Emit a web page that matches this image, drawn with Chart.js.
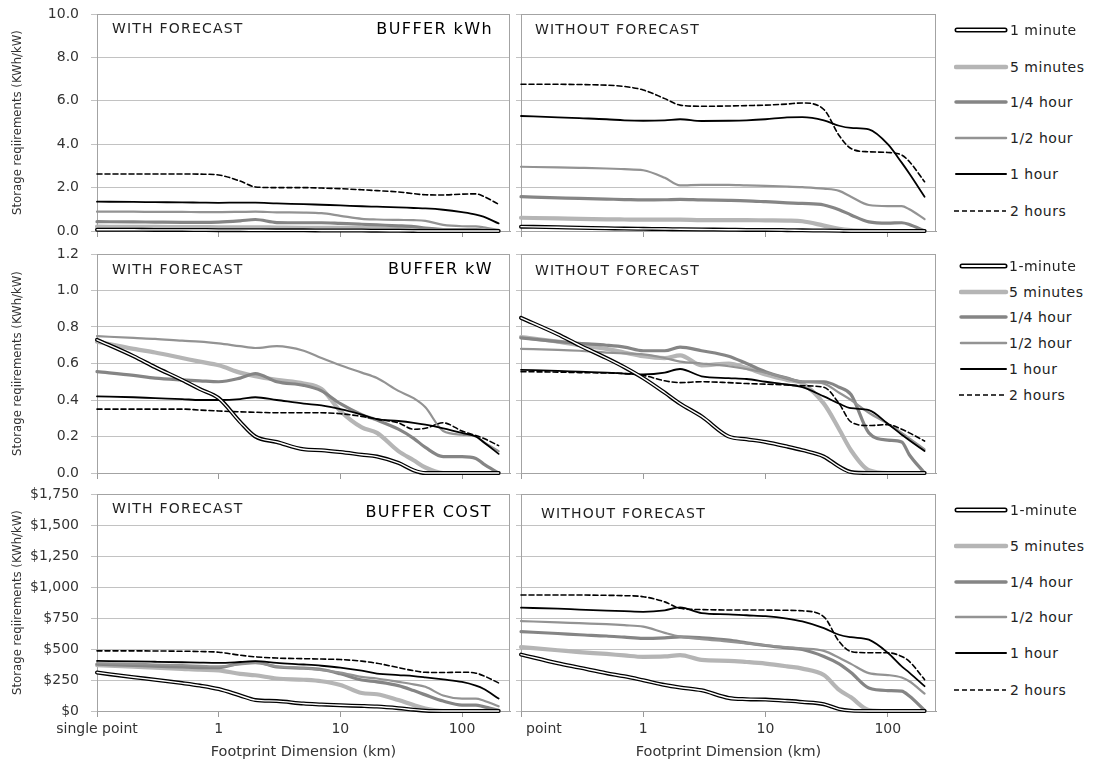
<!DOCTYPE html>
<html>
<head>
<meta charset="utf-8">
<script src="https://cdn.jsdelivr.net/npm/chart.js@4.4.1/dist/chart.umd.min.js"></script>
<style>
html,body{margin:0;padding:0;background:#fff;}
#wrap{position:relative;width:1096px;height:761px;overflow:hidden;font-family:"DejaVu Sans",sans-serif;color:#222;}
#wrap canvas{position:absolute;}
.lbl{position:absolute;white-space:nowrap;font-size:14px;letter-spacing:1.2px;line-height:16px;color:#222;}
.ttl{position:absolute;white-space:nowrap;font-size:16px;letter-spacing:1.4px;line-height:18px;color:#000;}
.leg{position:absolute;width:140px;height:16px;}
.leg svg{position:absolute;left:0;top:3px;}
.leg span{position:absolute;top:0;font-size:14px;letter-spacing:0.5px;line-height:16px;color:#222;white-space:nowrap;}
</style>
</head>
<body>
<div id="wrap"></div>
<script>
// ---------------- data ----------------
const distanceKm = [0.1, 0.2, 0.3, 0.5, 0.7, 1, 1.5, 2, 3, 5, 7, 10, 15, 20, 30, 40, 50, 70, 100, 130, 150, 200];
const xTickValues = [0.1, 1, 10, 100];
const xTickLabels = ['single point', '1', '10', '100'];

const yTicksKwh = [0, 2, 4, 6, 8, 10];
const yTicksKw = [0, 0.2, 0.4, 0.6, 0.8, 1.0, 1.2];
const yTicksCost = [0, 250, 500, 750, 1000, 1250, 1500, 1750];

const legendKwh = ['1 minute', '5 minutes', '1/4 hour', '1/2 hour', '1 hour', '2 hours'];
const legendKw = ['1-minute', '5 minutes', '1/4 hour', '1/2 hour', '1 hour', '2 hours'];
const legendCost = ['1-minute', '5 minutes', '1/4 hour', '1/2 hour', '1 hour', '2 hours'];

// BUFFER kWh - with forecast
const kwhWith_1min  = [0.06,0.055,0.05,0.05,0.045,0.04,0.04,0.035,0.03,0.03,0.025,0.02,0.02,0.015,0.01,0.005,0,0,0,0,0,0];
const kwhWith_5min  = [0.2,0.19,0.19,0.18,0.18,0.17,0.17,0.17,0.16,0.15,0.15,0.14,0.13,0.12,0.1,0.08,0.05,0.02,0.01,0.01,0.005,0];
const kwhWith_15min = [0.43,0.42,0.41,0.4,0.4,0.41,0.47,0.53,0.39,0.38,0.38,0.35,0.31,0.28,0.24,0.2,0.13,0.07,0.06,0.06,0.04,0];
const kwhWith_30min = [0.89,0.89,0.88,0.88,0.87,0.87,0.88,0.89,0.86,0.85,0.82,0.7,0.56,0.53,0.51,0.5,0.47,0.28,0.22,0.21,0.17,0.05];
const kwhWith_1h    = [1.35,1.34,1.33,1.32,1.31,1.3,1.31,1.31,1.27,1.24,1.21,1.18,1.14,1.12,1.09,1.06,1.04,0.98,0.87,0.76,0.66,0.35];
const kwhWith_2h    = [2.63,2.63,2.63,2.63,2.62,2.58,2.3,2.03,2.0,2.0,1.98,1.95,1.9,1.86,1.8,1.72,1.67,1.66,1.7,1.71,1.6,1.23];

// BUFFER kWh - without forecast
const kwhWithout_1min  = [0.2,0.17,0.15,0.13,0.11,0.1,0.09,0.08,0.07,0.06,0.05,0.05,0.04,0.03,0.02,0.01,0,0,0,0,0,0];
const kwhWithout_5min  = [0.61,0.58,0.56,0.54,0.53,0.52,0.52,0.52,0.5,0.5,0.5,0.49,0.48,0.45,0.25,0.1,0.04,0.01,0,0,0,0];
const kwhWithout_15min = [1.58,1.53,1.5,1.47,1.45,1.43,1.44,1.46,1.43,1.41,1.39,1.35,1.3,1.27,1.2,0.98,0.74,0.42,0.36,0.38,0.3,0];
const kwhWithout_30min = [2.96,2.93,2.91,2.88,2.85,2.8,2.45,2.1,2.13,2.13,2.1,2.08,2.05,2.02,1.95,1.85,1.58,1.2,1.15,1.15,1.0,0.55];
const kwhWithout_1h    = [5.3,5.24,5.2,5.15,5.1,5.08,5.1,5.15,5.07,5.08,5.1,5.15,5.24,5.25,5.1,4.85,4.75,4.68,4.0,3.15,2.65,1.58];
const kwhWithout_2h    = [6.76,6.76,6.75,6.72,6.66,6.5,6.1,5.8,5.75,5.76,5.78,5.8,5.85,5.9,5.6,4.4,3.8,3.65,3.62,3.5,3.2,2.27];

// BUFFER kW - with forecast
const kwWith_1min  = [0.73,0.64,0.58,0.51,0.46,0.41,0.28,0.2,0.17,0.13,0.125,0.115,0.1,0.09,0.055,0.015,0,0,0,0,0,0];
const kwWith_5min  = [0.72,0.68,0.66,0.63,0.61,0.59,0.55,0.53,0.51,0.49,0.46,0.34,0.25,0.22,0.12,0.07,0.03,0,0,0,0,0];
const kwWith_15min = [0.555,0.535,0.52,0.51,0.505,0.5,0.52,0.545,0.5,0.48,0.45,0.38,0.32,0.29,0.24,0.19,0.14,0.09,0.09,0.08,0.05,0];
const kwWith_30min = [0.75,0.74,0.735,0.725,0.72,0.71,0.695,0.685,0.695,0.67,0.63,0.59,0.55,0.52,0.45,0.41,0.36,0.23,0.21,0.2,0.17,0.12];
const kwWith_1h    = [0.42,0.415,0.41,0.405,0.4,0.4,0.405,0.415,0.4,0.38,0.37,0.35,0.32,0.295,0.285,0.275,0.265,0.245,0.22,0.2,0.17,0.105];
const kwWith_2h    = [0.35,0.35,0.35,0.35,0.345,0.34,0.335,0.333,0.33,0.33,0.33,0.325,0.31,0.295,0.275,0.24,0.245,0.275,0.23,0.205,0.19,0.15];

// BUFFER kW - without forecast
const kwWithout_1min  = [0.85,0.76,0.7,0.63,0.58,0.52,0.44,0.38,0.31,0.2,0.185,0.17,0.145,0.125,0.09,0.035,0.005,0,0,0,0,0];
const kwWithout_5min  = [0.745,0.72,0.7,0.68,0.66,0.64,0.63,0.645,0.59,0.6,0.575,0.54,0.51,0.49,0.38,0.24,0.125,0.015,0,0,0,0];
const kwWithout_15min = [0.74,0.72,0.71,0.7,0.69,0.67,0.67,0.69,0.67,0.64,0.6,0.555,0.52,0.5,0.5,0.47,0.43,0.22,0.18,0.17,0.1,0];
const kwWithout_30min = [0.68,0.675,0.67,0.66,0.655,0.65,0.63,0.61,0.6,0.585,0.57,0.55,0.52,0.5,0.49,0.44,0.4,0.33,0.27,0.22,0.19,0.13];
const kwWithout_1h    = [0.565,0.56,0.555,0.55,0.545,0.54,0.55,0.57,0.53,0.52,0.515,0.5,0.485,0.47,0.42,0.38,0.355,0.345,0.27,0.21,0.18,0.12];
const kwWithout_2h    = [0.555,0.553,0.55,0.548,0.545,0.535,0.505,0.495,0.5,0.495,0.49,0.487,0.482,0.478,0.47,0.38,0.28,0.26,0.265,0.24,0.22,0.175];

// BUFFER COST - with forecast ($)
const costWith_1min  = [310,272,252,225,205,177,125,88,80,60,53,46,41,36,23,11,3,0,0,0,0,0];
const costWith_5min  = [370,357,350,340,333,328,300,288,262,252,240,210,145,135,88,48,20,0,0,0,0,0];
const costWith_15min = [378,368,362,355,350,350,385,395,355,345,335,300,250,235,205,165,130,80,48,48,35,5];
const costWith_30min = [385,380,375,370,365,360,375,385,360,345,330,310,275,262,235,215,195,125,100,100,85,38];
const costWith_1h    = [404,400,397,393,390,388,395,402,388,375,365,350,325,302,290,282,272,255,235,205,180,100];
const costWith_2h    = [485,485,484,482,480,474,450,437,427,422,419,415,402,385,350,325,312,310,313,305,285,226];

// BUFFER COST - without forecast ($)
const costWithout_1min  = [455,385,350,305,280,248,210,190,167,105,95,92,82,73,55,15,3,0,0,0,0,0];
const costWithout_5min  = [515,490,475,460,448,437,440,450,412,405,395,382,360,342,290,170,110,8,0,0,0,0];
const costWithout_15min = [640,625,615,605,595,585,590,598,590,572,550,528,508,496,440,380,310,185,165,160,120,5];
const costWithout_30min = [725,715,708,700,692,680,630,600,580,560,545,530,515,505,485,430,380,305,290,270,240,140];
const costWithout_1h    = [833,825,818,810,805,800,812,835,790,780,772,765,745,722,668,615,595,575,470,360,310,200];
const costWithout_2h    = [935,935,935,933,930,922,880,828,818,815,815,814,812,808,760,560,480,470,470,440,400,253];

// ---------------- formatting ----------------
const fmtOne = v => Number(v).toFixed(1);
const fmtCost = v => '$' + Number(v).toLocaleString('en-US');

const TICK_FONT = {family: "'DejaVu Sans', sans-serif", size: 14};
const YTITLE_FONT = {family: "'Liberation Sans Narrow', 'DejaVu Sans Condensed', 'Liberation Sans', sans-serif", size: 13};

const panels = [
  {left:0,   top:0,   width:513, height:240, padTop:14, padRight:3, yWidth:97, xHeight:9,  showY:true,  showX:false, yTicks:yTicksKwh,  fmt:fmtOne,
   series:[kwhWith_1min, kwhWith_5min, kwhWith_15min, kwhWith_30min, kwhWith_1h, kwhWith_2h]},
  {left:516, top:0,   width:424, height:240, padTop:14, padRight:4, yWidth:5,  xHeight:9,  showY:false, showX:false, yTicks:yTicksKwh,  fmt:fmtOne,
   series:[kwhWithout_1min, kwhWithout_5min, kwhWithout_15min, kwhWithout_30min, kwhWithout_1h, kwhWithout_2h]},
  {left:0,   top:240, width:513, height:242, padTop:14, padRight:3, yWidth:97, xHeight:9,  showY:true,  showX:false, yTicks:yTicksKw,   fmt:fmtOne,
   series:[kwWith_1min, kwWith_5min, kwWith_15min, kwWith_30min, kwWith_1h, kwWith_2h]},
  {left:516, top:240, width:424, height:242, padTop:14, padRight:4, yWidth:5,  xHeight:9,  showY:false, showX:false, yTicks:yTicksKw,   fmt:fmtOne,
   series:[kwWithout_1min, kwWithout_5min, kwWithout_15min, kwWithout_30min, kwWithout_1h, kwWithout_2h]},
  {left:0,   top:482, width:513, height:279, padTop:12, padRight:3, yWidth:97, xHeight:50, showY:true,  showX:true,  yTicks:yTicksCost, fmt:fmtCost,
   series:[costWith_1min, costWith_5min, costWith_15min, costWith_30min, costWith_1h, costWith_2h]},
  {left:516, top:482, width:424, height:279, padTop:12, padRight:4, yWidth:5,  xHeight:50, showY:false, showX:true,  yTicks:yTicksCost, fmt:fmtCost,
   series:[costWithout_1min, costWithout_5min, costWithout_15min, costWithout_30min, costWithout_1h, costWithout_2h],
   clipLabelArea: true},
];

const frame = {
  id: 'frame',
  beforeDatasetsDraw(chart) {
    const {ctx, chartArea: a} = chart;
    ctx.save();
    ctx.strokeStyle = '#a3a3a3';
    ctx.lineWidth = 1;
    ctx.strokeRect(Math.round(a.left) + 0.5, Math.round(a.top) + 0.5, Math.round(a.right - a.left) - 1, Math.round(a.bottom - a.top));
    ctx.restore();
  }
};

function toPoints(arr) { return arr.map((y, i) => ({x: distanceKm[i], y})); }

function makeDatasets(series) {
  const [m1, m5, q, h, h1, h2] = series;
  return [
    {data: toPoints(h2), borderColor: '#000', borderWidth: 1.6, borderDash: [5, 3], order: 2},
    {data: toPoints(h1), borderColor: '#000', borderWidth: 1.8, order: 2},
    {data: toPoints(h),  borderColor: '#939393', borderWidth: 2.2, order: 2},
    {data: toPoints(q),  borderColor: '#858585', borderWidth: 3.2, order: 2},
    {data: toPoints(m5), borderColor: '#b5b5b5', borderWidth: 4.2, order: 2},
    {data: toPoints(m1), borderColor: '#000', borderWidth: 4, order: 1},
    {data: toPoints(m1), borderColor: '#fff', borderWidth: 1.4, order: 0},
  ];
}

const wrap = document.getElementById('wrap');

panels.forEach(p => {
  const cv = document.createElement('canvas');
  cv.width = p.width; cv.height = p.height;
  cv.style.left = p.left + 'px'; cv.style.top = p.top + 'px';
  cv.style.width = p.width + 'px'; cv.style.height = p.height + 'px';
  if (p.clipLabelArea) {
    // the neighbouring panel covers the start of this panel's first category label
    const plotBottom = p.height - p.xHeight;
    cv.style.clipPath = `polygon(0 0, 100% 0, 100% 100%, 6px 100%, 6px ${plotBottom + 7}px, 0 ${plotBottom + 7}px)`;
  }
  wrap.appendChild(cv);
  new Chart(cv, {
    type: 'line',
    data: {datasets: makeDatasets(p.series)},
    plugins: [frame],
    options: {
      responsive: false,
      animation: false,
      devicePixelRatio: 1,
      layout: {padding: {top: p.padTop, right: p.padRight, left: 0, bottom: 0}},
      elements: {
        point: {radius: 0, hoverRadius: 0},
        line: {cubicInterpolationMode: 'monotone', borderCapStyle: 'round', borderJoinStyle: 'round', fill: false}
      },
      datasets: {line: {clip: 4}},
      plugins: {legend: {display: false}, tooltip: {enabled: false}},
      scales: {
        x: {
          type: 'logarithmic',
          min: 0.1, max: 248,
          afterBuildTicks: s => { s.ticks = xTickValues.map(v => ({value: v})); },
          afterFit: s => { s.height = p.xHeight; s.paddingLeft = 0; s.paddingRight = 0; },
          grid: {drawOnChartArea: false, drawTicks: true, tickLength: 6, color: '#9a9a9a'},
          border: {display: true, color: '#9a9a9a'},
          ticks: {display: p.showX, autoSkip: false, maxRotation: 0, minRotation: 0, padding: 4,
                  font: TICK_FONT, color: '#333', callback: (v, i) => xTickLabels[i]},
          title: {display: p.showX, text: 'Footprint Dimension (km)', color: '#333',
                  font: {family: "'DejaVu Sans', sans-serif", size: 14.5}, padding: {top: 0, bottom: 0}}
        },
        y: {
          min: p.yTicks[0], max: p.yTicks[p.yTicks.length - 1],
          afterBuildTicks: s => { s.ticks = p.yTicks.map(v => ({value: v})); },
          afterFit: s => { s.width = p.yWidth; s.paddingTop = 0; s.paddingBottom = 0; },
          grid: {color: '#c2c2c2', drawTicks: true, tickLength: p.showY ? 6 : 5},
          border: {display: true, color: '#a3a3a3'},
          ticks: {display: p.showY, padding: 12, font: TICK_FONT, color: '#333', callback: v => p.fmt(v)},
          title: {display: p.showY, text: 'Storage reqiirements (KWh/kW)', color: '#333',
                  font: YTITLE_FONT, padding: {top: 10, bottom: 0}}
        }
      }
    }
  });
});

// ---------------- panel annotations ----------------
const annotations = [
  {cls: 'lbl', text: 'WITH FORECAST',    left: 112, cy: 28},
  {cls: 'ttl', text: 'BUFFER kWh',       right: 493, cy: 29},
  {cls: 'lbl', text: 'WITHOUT FORECAST', left: 535, cy: 29},
  {cls: 'lbl', text: 'WITH FORECAST',    left: 112, cy: 269},
  {cls: 'ttl', text: 'BUFFER kW',        right: 493, cy: 269},
  {cls: 'lbl', text: 'WITHOUT FORECAST', left: 535, cy: 270},
  {cls: 'lbl', text: 'WITH FORECAST',    left: 112, cy: 508},
  {cls: 'ttl', text: 'BUFFER COST',      right: 492, cy: 512},
  {cls: 'lbl', text: 'WITHOUT FORECAST', left: 541, cy: 513},
];
annotations.forEach(a => {
  const d = document.createElement('div');
  d.className = a.cls;
  d.textContent = a.text;
  const half = a.cls === 'ttl' ? 9 : 8;
  d.style.top = (a.cy - half) + 'px';
  if (a.left !== undefined) d.style.left = a.left + 'px';
  else d.style.right = (1096 - a.right) + 'px';
  wrap.appendChild(d);
});

// ---------------- legends ----------------
const legendStyles = [
  {double: true},
  {color: '#b5b5b5', width: 4.5},
  {color: '#858585', width: 3.5},
  {color: '#939393', width: 2.5},
  {color: '#000', width: 2},
  {color: '#000', width: 1.6, dash: '5,3'},
];
const legendBlocks = [
  {labels: legendKwh,  x0: 954, x1: 1007, textX: 1010, ys: [30, 67, 102, 138, 174, 211]},
  {labels: legendKw,   x0: 959, x1: 1007, textX: 1009, ys: [266, 292, 317, 343, 369, 395]},
  {labels: legendCost, x0: 954, x1: 1007, textX: 1010, ys: [510, 546, 582, 617, 653, 690]},
];
const SVGNS = 'http://www.w3.org/2000/svg';
function svgLine(svg, x0, x1, color, w, dash, cap) {
  const l = document.createElementNS(SVGNS, 'line');
  l.setAttribute('x1', x0); l.setAttribute('x2', x1);
  l.setAttribute('y1', 5); l.setAttribute('y2', 5);
  l.setAttribute('stroke', color); l.setAttribute('stroke-width', w);
  l.setAttribute('stroke-linecap', cap || 'butt');
  if (dash) l.setAttribute('stroke-dasharray', dash);
  svg.appendChild(l);
}
legendBlocks.forEach(b => {
  b.labels.forEach((lab, i) => {
    const item = document.createElement('div');
    item.className = 'leg';
    item.style.left = b.x0 + 'px';
    item.style.top = (b.ys[i] - 8) + 'px';
    const len = b.x1 - b.x0;
    const svg = document.createElementNS(SVGNS, 'svg');
    svg.setAttribute('width', len + 2); svg.setAttribute('height', 10);
    const st = legendStyles[i];
    if (st.double) {
      svgLine(svg, 3, len - 2, '#000', 5, null, 'round');
      svgLine(svg, 3, len - 2, '#fff', 1.8, null, 'round');
    } else {
      svgLine(svg, st.dash ? 0 : 2, len - 1, st.color, st.width, st.dash, st.dash ? 'butt' : 'round');
    }
    item.appendChild(svg);
    const sp = document.createElement('span');
    sp.textContent = lab;
    sp.style.left = (b.textX - b.x0) + 'px';
    item.appendChild(sp);
    wrap.appendChild(item);
  });
});
</script>
</body>
</html>
